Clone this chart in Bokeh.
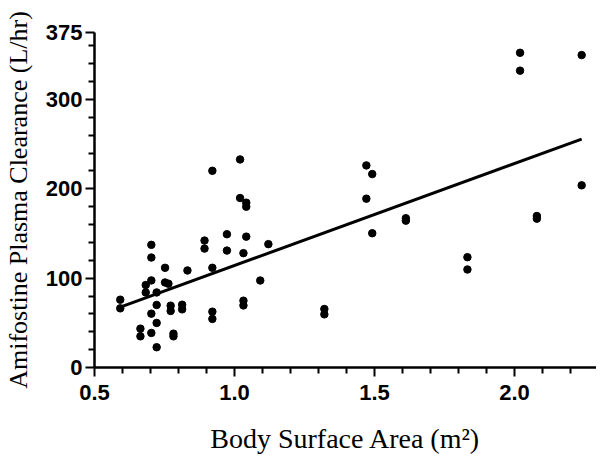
import numpy as np
from bokeh.plotting import figure
from bokeh.models import FixedTicker, Range1d
from bokeh.embed import file_html
from bokeh.resources import INLINE

# Body surface area (m^2)
bsa = [0.592, 0.592, 0.664, 0.664, 0.683, 0.683, 0.703, 0.703, 0.703, 0.703,
       0.703, 0.722, 0.722, 0.722, 0.722, 0.752, 0.752, 0.764, 0.772, 0.772,
       0.782, 0.782, 0.813, 0.813, 0.832, 0.893, 0.893, 0.921, 0.921, 0.921,
       0.921, 0.973, 0.973, 1.020, 1.020, 1.042, 1.042, 1.042, 1.032, 1.032,
       1.032, 1.092, 1.121, 1.321, 1.321, 1.471, 1.492, 1.471, 1.492, 1.612,
       1.612, 1.832, 1.832, 2.080, 2.080, 2.240, 2.020, 2.020, 2.240]
# Amifostine plasma clearance (L/hr)
clearance = [75.9, 66.2, 43.5, 34.9, 92.3, 84.0, 137.3, 123.1, 97.5, 60.3,
             38.7, 84.0, 70.0, 49.9, 22.7, 111.6, 95.2, 93.8, 69.2, 63.3,
             37.9, 34.9, 70.3, 65.1, 108.6, 142.1, 133.1, 220.2, 111.6, 62.5,
             54.4, 149.2, 130.9, 232.9, 189.7, 184.5, 180.0, 146.5, 128.0, 74.8,
             69.5, 97.4, 138.1, 65.5, 59.5, 226.2, 216.5, 189.0, 150.3, 167.1,
             164.4, 123.5, 109.7, 169.6, 166.6, 203.9, 352.3, 332.3, 349.7]

y_major = [0, 100, 200, 300, 375]
y_minor = [20, 40, 60, 80, 120, 140, 160, 180, 220, 240, 260, 280, 320, 340, 360]
x_major = [0.5, 1.0, 1.5, 2.0]
x_minor = [0.6, 0.7, 0.8, 0.9, 1.1, 1.2, 1.3, 1.4, 1.6, 1.7, 1.8, 1.9, 2.1, 2.2]

p = figure(width=596, height=456, output_backend="svg", toolbar_location=None,
           x_range=Range1d(0.5, 2.293), y_range=Range1d(0, 375),
           min_border_left=94, min_border_top=32, min_border_bottom=88,
           min_border_right=0)
p.outline_line_color = None
p.xgrid.visible = False
p.ygrid.visible = False
p.background_fill_color = "white"
p.border_fill_color = "white"

x = np.array(bsa)
y = np.array(clearance)
slope, intercept = np.polyfit(x, y, 1)
xl = np.array([x.min(), x.max()])
p.line(xl, slope * xl + intercept, line_color="black", line_width=3)
p.scatter(bsa, clearance, size=7.5, fill_color="black", line_color="black")

for ax in (p.xaxis[0], p.yaxis[0]):
    ax.axis_line_width = 2.5
    ax.axis_line_color = "black"
    ax.major_tick_line_width = 2
    ax.minor_tick_line_width = 2
    ax.major_tick_in = 0
    ax.minor_tick_in = 0
    ax.major_tick_out = 9
    ax.minor_tick_out = 6
    ax.major_label_text_font = "Liberation Sans"
    ax.major_label_text_font_style = "bold"
    ax.major_label_text_font_size = "22px"
    ax.major_label_text_color = "black"
    ax.axis_label_text_font = "Liberation Serif"
    ax.axis_label_text_font_style = "normal"
    ax.axis_label_text_color = "black"

p.xaxis.axis_label_text_font_size = "28px"
p.yaxis.axis_label_text_font_size = "26px"
p.xaxis.ticker = FixedTicker(ticks=x_major, minor_ticks=x_minor)
p.yaxis.ticker = FixedTicker(ticks=y_major, minor_ticks=y_minor)
p.xaxis.major_label_overrides = {0.5: "0.5", 1.0: "1.0", 1.5: "1.5", 2.0: "2.0"}
p.xaxis.axis_label = "Body Surface Area (m\u00b2)"
p.yaxis.axis_label = "Amifostine Plasma Clearance (L/hr)"
p.xaxis.major_label_standoff = 8
p.yaxis.major_label_standoff = 3
p.xaxis.axis_label_standoff = 20
p.yaxis.axis_label_standoff = 10

open("out.html", "w").write(file_html(p, INLINE))
